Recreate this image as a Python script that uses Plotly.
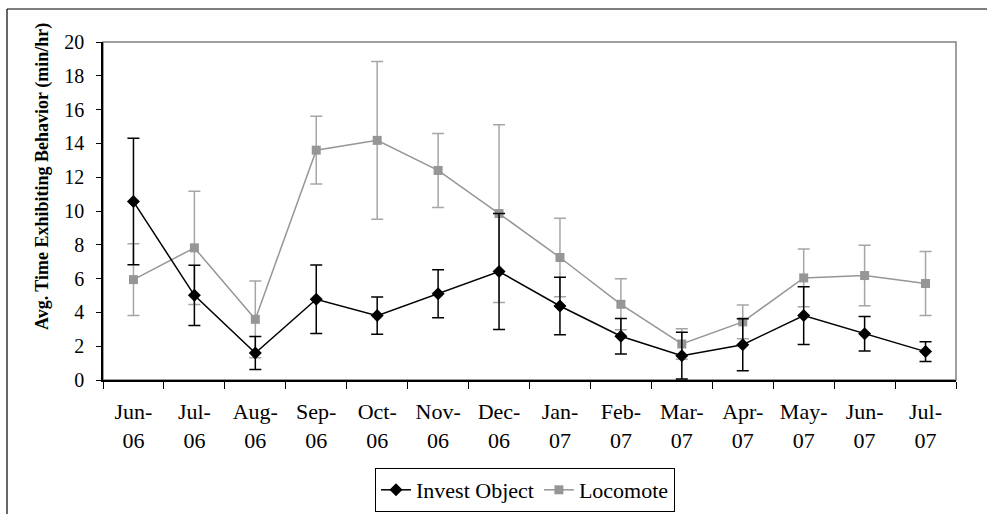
import plotly.graph_objects as go

months = ["Jun-<br>06", "Jul-<br>06", "Aug-<br>06", "Sep-<br>06", "Oct-<br>06", "Nov-<br>06", "Dec-<br>06",
          "Jan-<br>07", "Feb-<br>07", "Mar-<br>07", "Apr-<br>07", "May-<br>07", "Jun-<br>07", "Jul-<br>07"]
invest = [10.56, 5.01, 1.60, 4.78, 3.81, 5.11, 6.42, 4.38, 2.59, 1.44, 2.09, 3.81, 2.74, 1.68]
invest_err = [3.74, 1.78, 0.98, 2.03, 1.10, 1.42, 3.43, 1.70, 1.05, 1.38, 1.54, 1.71, 1.02, 0.59]
locomote = [5.94, 7.82, 3.59, 13.60, 14.18, 12.40, 9.85, 7.25, 4.48, 2.13, 3.44, 6.04, 6.18, 5.71]
locomote_err = [2.12, 3.35, 2.27, 2.00, 4.67, 2.19, 5.26, 2.32, 1.51, 0.90, 1.00, 1.71, 1.79, 1.90]

W, H = 987, 514
L, R, T, B = 103, 31, 42, 134
FONT = "Liberation Serif"

fig = go.Figure()
fig.add_trace(go.Scatter(
    x=months, y=locomote, name="Locomote", mode="lines+markers",
    line=dict(color="#969696", width=1.5),
    marker=dict(symbol="square", size=9, color="#969696"),
    error_y=dict(type="data", array=locomote_err, visible=True, color="#A6A6A6", thickness=1.5, width=6),
))
fig.add_trace(go.Scatter(
    x=months, y=invest, name="Invest Object", mode="lines+markers",
    line=dict(color="#000000", width=1.5),
    marker=dict(symbol="diamond", size=10, color="#000000"),
    error_y=dict(type="data", array=invest_err, visible=True, color="#000000", thickness=1.5, width=6),
))

pw = W - L - R
ph = H - T - B
def px_x(p):
    return (p - L) / pw
def px_y(p):
    return (H - B - p) / ph

fig.update_layout(
    width=W, height=H, margin=dict(l=L, r=R, t=T, b=B, autoexpand=False),
    paper_bgcolor="white", plot_bgcolor="white",
    font=dict(family=FONT, size=20, color="black"),
    showlegend=True,
    legend=dict(orientation="h", xref="container", yref="container",
                x=525 / W, xanchor="center", y=2 / H, yanchor="bottom",
                bordercolor="black", borderwidth=1, traceorder="reversed",
                font=dict(family=FONT, size=22), tracegroupgap=0),
    xaxis=dict(type="category", range=[-0.5, 13.5], tickson="boundaries", ticks="outside",
               ticklen=7, tickcolor="black", showline=True, linecolor="black", linewidth=1.5,
               showgrid=False, tickfont=dict(family=FONT, size=22), ticklabelstandoff=11,
               automargin=False, fixedrange=True),
    yaxis=dict(range=[0, 20], dtick=2, ticks="outside", ticklen=5, tickcolor="black",
               showline=True, linecolor="black", linewidth=1.5, showgrid=False, zeroline=False,
               tickfont=dict(family=FONT, size=20), ticklabelstandoff=8, automargin=False,
               fixedrange=True),
    shapes=[
        dict(type="rect", xref="paper", yref="paper", x0=0, x1=1, y0=0, y1=1,
             line=dict(color="#808080", width=1.5), layer="below"),
        dict(type="line", xref="paper", yref="paper", x0=px_x(7), x1=px_x(1000), y0=px_y(9), y1=px_y(9),
             line=dict(color="black", width=1.2)),
        dict(type="line", xref="paper", yref="paper", x0=px_x(7), x1=px_x(7), y0=px_y(9), y1=px_y(520),
             line=dict(color="black", width=1.2)),
    ],
    annotations=[
        dict(text="<b>Avg. Time Exhibiting Behavior (min/hr)</b>", textangle=-90,
             xref="paper", yref="paper", x=px_x(42), y=px_y(177), xanchor="center", yanchor="middle",
             showarrow=False, font=dict(family=FONT, size=18)),
    ],
)

fig.write_html("out.html")
